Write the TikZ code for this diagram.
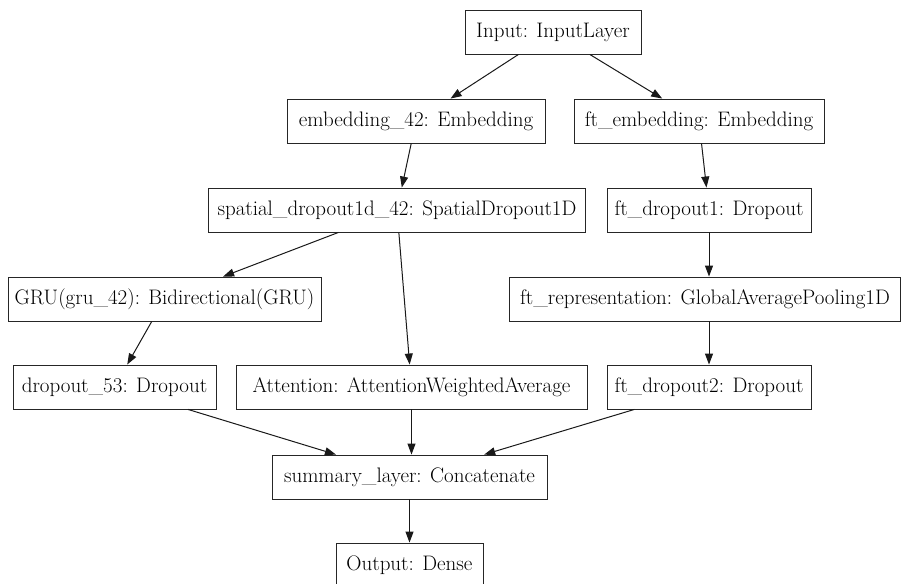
\documentclass[tikz,border=0pt]{standalone}
\usetikzlibrary{arrows.meta}
\begin{document}
\begin{tikzpicture}[x=1pt,y=-1pt,
  layer/.style={draw=black!85, line width=0.9pt, rectangle, minimum height=44pt, inner sep=0pt,
    font=\fontsize{21}{24}\selectfont, fill=white},
  conn/.style={draw=black!90, line width=1pt, -{Triangle[length=11pt,width=8pt]}}]
\useasboundingbox (0,0) rectangle (901,583);
\fill[white] (0,0) rectangle (901,583);
\node[layer, minimum width=176pt] (input) at (553,32) {Input: InputLayer};
\node[layer, minimum width=258pt] (emb) at (416,121) {embedding\_42: Embedding};
\node[layer, minimum width=250pt] (ftemb) at (699,121) {ft\_embedding: Embedding};
\node[layer, minimum width=377pt] (spatial) at (397,210) {spatial\_dropout1d\_42: SpatialDropout1D};
\node[layer, minimum width=204pt] (ftdrop1) at (709,210) {ft\_dropout1: Dropout};
\node[layer, minimum width=313pt] (gru) at (164.5,299) {GRU(gru\_42): Bidirectional(GRU)};
\node[layer, minimum width=391pt] (ftrep) at (705,299) {ft\_representation: GlobalAveragePooling1D};
\node[layer, minimum width=203pt] (drop53) at (114.5,387) {dropout\_53: Dropout};
\node[layer, minimum width=351pt] (att) at (411.5,387) {Attention: AttentionWeightedAverage};
\node[layer, minimum width=204pt] (ftdrop2) at (709,387) {ft\_dropout2: Dropout};
\node[layer, minimum width=275pt] (summary) at (409.5,477) {summary\_layer: Concatenate};
\node[layer, minimum width=147pt] (output) at (409.5,565) {Output: Dense};
\draw[conn] (input) -- (emb);
\draw[conn] (input) -- (ftemb);
\draw[conn] (emb) -- (spatial);
\draw[conn] (ftemb) -- (ftdrop1);
\draw[conn] (spatial) -- (gru);
\draw[conn] (spatial) -- (att);
\draw[conn] (ftdrop1.south) -- (ftdrop1.south |- ftrep.north);
\draw[conn] (gru) -- (drop53);
\draw[conn] (ftdrop2.north |- ftrep.south) -- (ftdrop2.north);
\draw[conn] (drop53) -- (summary);
\draw[conn] (att.south) -- (att.south |- summary.north);
\draw[conn] (ftdrop2) -- (summary);
\draw[conn] (summary) -- (output);
\end{tikzpicture}
\end{document}
